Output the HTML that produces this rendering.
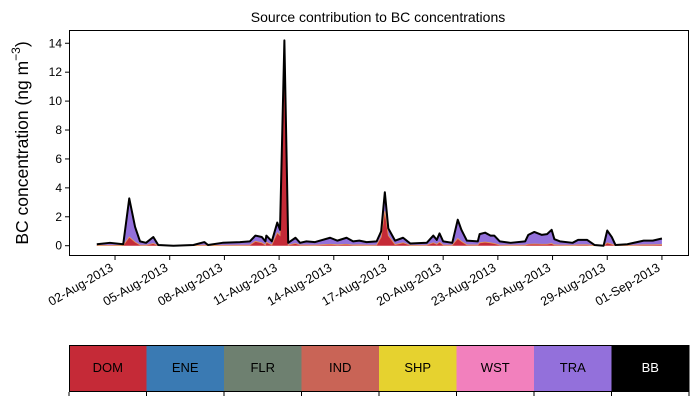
<!DOCTYPE html>
<html><head><meta charset="utf-8"><style>
body{margin:0;background:#fff;}
svg text{font-family:"Liberation Sans","DejaVu Sans",sans-serif;}
</style></head><body>
<svg id="chart" width="698" height="402" xmlns="http://www.w3.org/2000/svg">
<rect width="698" height="402" fill="#fff"/>
<text x="378" y="22" font-size="14" text-anchor="middle">Source contribution to BC concentrations</text>
<text transform="translate(28,143) rotate(-90)" font-size="17.5" text-anchor="middle">BC concentration (ng m<tspan font-size="12" dy="-8">−3</tspan><tspan dy="8">)</tspan></text>
<g id="plot"></g>
<rect x="69.5" y="30.5" width="619" height="225" fill="none" stroke="#000" stroke-width="1"/>
<g id="axes"></g>
<g id="cbar"></g>
</svg>
<script>
const days = [0,0.72,1.45,1.78,2.1,2.37,2.7,3.1,3.37,4.2,5.3,5.9,6.1,6.9,7.85,8.4,8.7,9.05,9.25,9.3,9.6,9.9,10.05,10.29,10.5,10.9,11.15,11.5,11.97,12.8,13.2,13.7,14.06,14.4,14.8,15.35,15.6,15.8,15.99,16.36,16.8,17.2,18.1,18.46,18.65,18.8,19.0,19.5,19.8,20.0,20.3,20.9,21.0,21.3,21.6,21.8,22.1,22.7,23.5,23.67,24.0,24.4,24.7,24.95,25.1,25.4,26.1,26.4,26.9,27.3,27.8,28.0,28.25,28.45,29.1,30.0,30.5,31.0];
const totalBC = [0.1,0.2,0.1,3.27,1.3,0.3,0.2,0.6,0.05,0.0,0.05,0.25,0.05,0.2,0.25,0.3,0.7,0.6,0.3,0.7,0.3,1.6,1.1,14.2,0.2,0.55,0.2,0.3,0.25,0.55,0.35,0.55,0.3,0.35,0.25,0.3,1.0,3.7,1.2,0.35,0.55,0.15,0.2,0.7,0.4,0.85,0.3,0.2,1.8,1.1,0.35,0.3,0.8,0.9,0.7,0.7,0.3,0.2,0.3,0.75,0.95,0.75,0.8,1.1,0.45,0.3,0.2,0.4,0.4,0.05,0.0,1.05,0.6,0.05,0.1,0.35,0.35,0.5];
const domBC = [0.02,0.03,0.02,0.6,0.25,0.05,0.03,0.15,0.01,0.0,0.01,0.04,0.01,0.03,0.04,0.05,0.3,0.2,0.05,0.25,0.05,0.9,0.7,12.3,0.05,0.15,0.05,0.05,0.04,0.1,0.06,0.1,0.05,0.06,0.04,0.05,0.6,2.4,0.7,0.08,0.2,0.03,0.04,0.2,0.1,0.25,0.05,0.04,0.5,0.3,0.06,0.05,0.2,0.25,0.2,0.15,0.05,0.04,0.05,0.1,0.12,0.1,0.1,0.15,0.06,0.05,0.03,0.06,0.06,0.01,0.0,0.2,0.1,0.01,0.02,0.06,0.06,0.08];
const yTicks = [0,2,4,6,8,10,12,14];
const xTickDays = [1,4,7,10,13,16,19,22,25,28,31];
const xTickLabels = ["02-Aug-2013","05-Aug-2013","08-Aug-2013","11-Aug-2013","14-Aug-2013","17-Aug-2013","20-Aug-2013","23-Aug-2013","26-Aug-2013","29-Aug-2013","01-Sep-2013"];
const sources = ["DOM","ENE","FLR","IND","SHP","WST","TRA","BB"];
const sourceColors = ["#c52a37","#3a7ab3","#6e8070","#c96456","#e6d22f","#f280bd","#9370db","#000000"];

const NS="http://www.w3.org/2000/svg";
const xs = d => 96.8 + d*18.23;
const ys = v => 245.7 - v*14.46;
function mk(tag, attrs, parent){const e=document.createElementNS(NS,tag);for(const k in attrs)e.setAttribute(k,attrs[k]);parent.appendChild(e);return e;}
const plot=document.getElementById('plot'), axes=document.getElementById('axes'), cbar=document.getElementById('cbar');

function areaPath(lo, hi){
  let d='M'+days.map((t,i)=>xs(t).toFixed(2)+','+ys(hi[i]).toFixed(2)).join('L');
  for(let i=days.length-1;i>=0;i--) d+='L'+xs(days[i]).toFixed(2)+','+ys(lo[i]).toFixed(2);
  return d+'Z';
}
const zeros = days.map(()=>0);
const tra = mk('path',{d:areaPath(domBC,totalBC),fill:'#9370db'},plot);


const dom = mk('path',{d:areaPath(zeros,domBC),fill:'#c52a37'},plot);


const ind = mk('polyline',{points:days.map((t,i)=>xs(t)+','+ys(domBC[i])).join(' '),fill:'none',stroke:'#e39a5a','stroke-width':0.8},plot);


const tot = mk('polyline',{points:days.map((t,i)=>xs(t)+','+ys(totalBC[i])).join(' '),fill:'none',stroke:'#000','stroke-width':2,'stroke-linejoin':'round'},plot);



yTicks.forEach(v=>{
  const y=ys(v);
  const l=mk('line',{x1:65,x2:69,y1:y,y2:y,stroke:'#000'},axes);
  
  
  const t=mk('text',{x:62,y:y+4,'font-size':12,'text-anchor':'end'},axes);
  
  
  t.textContent=v;
});
xTickDays.forEach((d,i)=>{
  const x=xs(d);
  const l=mk('line',{x1:x,x2:x,y1:256,y2:260,stroke:'#000'},axes);
  
  
  const t=mk('text',{transform:`translate(${x-1},${270}) rotate(-30)`,'font-size':12.5,'text-anchor':'end'},axes);
  
  
  t.textContent=xTickLabels[i];
});
const cw=(689-69)/sources.length;
sources.forEach((s,i)=>{
  const x=69+i*cw;
  const r=mk('rect',{x:x,y:345,width:cw+0.5,height:47,fill:sourceColors[i]},cbar);
  
  
  const t=mk('text',{x:x+cw/2,y:372,'font-size':13,'text-anchor':'middle',fill:s==='BB'?'#fff':'#000'},cbar);
  
  
  t.textContent=s;
});
for(let i=0;i<=sources.length;i++){
  const x=69+i*cw;
  const l=mk('line',{x1:x,x2:x,y1:392,y2:396,stroke:'#000'},cbar);
  
  
}
const fr=mk('rect',{x:69.5,y:345.5,width:619,height:46,fill:'none',stroke:'#000'},cbar);


</script>
</body></html>
